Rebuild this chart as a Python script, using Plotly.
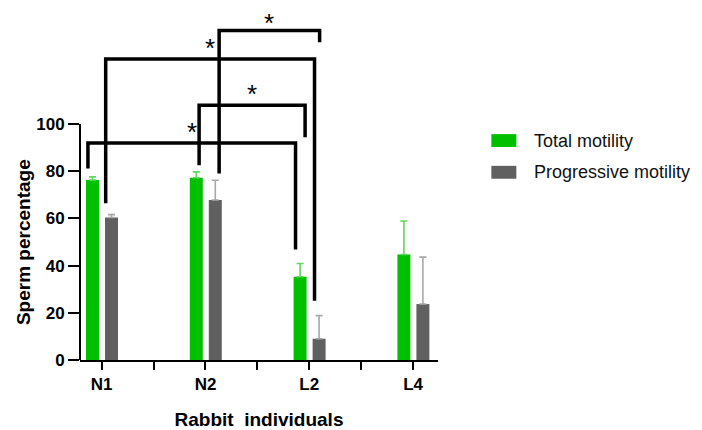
import plotly.graph_objects as go

# ---- data ----
categories = ["N1", "N2", "L2", "L4"]
total_motility = [76.3, 77.2, 35.3, 44.7]
total_err = [1.3, 2.5, 5.6, 14.2]
progressive_motility = [60.4, 67.8, 9.0, 23.7]
progressive_err = [1.2, 8.4, 9.8, 19.9]
series_names = ["Total motility", "Progressive motility"]
y_ticks = [0, 20, 40, 60, 80, 100]

# significance comparisons: (cat_a, series_a, cat_b, series_b, top, left_end, right_end, nudge_left, nudge_right)
comparisons = [
    (0, 0, 2, 0, 92.0, 81.1, 46.8, -0.044, -0.044),
    (1, 0, 2, 1, 108.0, 82.5, 94.4, 0.027, -0.135),
    (0, 1, 2, 1, 127.6, 66.4, 25.1, -0.056, -0.044),
    (1, 1, 2, 1, 139.6, 79.0, 134.6, 0.037, 0.005),
]
star_label = "*"

# ---- style ----
GREEN = "#00c000"
GREY = "#606060"
FONT = "Liberation Sans, Arial, sans-serif"
bar_width = 0.125
offsets = [-0.151, 0.032]
colors = [GREEN, GREY]
err_colors = ["#5fd65f", "#a8a8a8"]
star_yshift = [-6, -6, -6, -9]

x_pos = list(range(len(categories)))

fig = go.Figure()
for i, (vals, errs) in enumerate([(total_motility, total_err), (progressive_motility, progressive_err)]):
    fig.add_trace(go.Bar(
        x=x_pos, y=vals, name=series_names[i],
        width=bar_width, offset=offsets[i],
        marker=dict(color=colors[i], line=dict(width=0)),
        error_y=dict(type="data", symmetric=False, array=errs,
                     arrayminus=[0] * len(errs), color=err_colors[i],
                     thickness=1.6, width=3.5),
        showlegend=False,
    ))

def bar_center(cat, ser):
    return cat + offsets[ser] + bar_width / 2

shapes = []
annotations = []
for k, (ca, sa, cb, sb, top, lend, rend, nl, nr) in enumerate(comparisons):
    xl = bar_center(ca, sa) + nl
    xr = bar_center(cb, sb) + nr
    path = f"M {xl},{lend} L {xl},{top} L {xr},{top} L {xr},{rend}"
    shapes.append(dict(type="path", path=path, xref="x", yref="y",
                       line=dict(color="black", width=3.5)))
    annotations.append(dict(x=(xl + xr) / 2, y=top, xref="x", yref="y",
                            text=star_label, showarrow=False,
                            font=dict(family=FONT, size=26, color="black"),
                            xanchor="center", yanchor="bottom", yshift=star_yshift[k]))

# y axis line from 0 to 100
shapes.append(dict(type="line", xref="paper", yref="y", x0=0, x1=0, y0=y_ticks[0], y1=y_ticks[-1],
                   line=dict(color="black", width=2)))

# manual legend (paper coords; plot area 358.3 x 355 px)
PW, PH = 358.3, 355.0
def px_x(px):
    return (px - 80) / PW
def px_y(py):
    return (363 - py) / PH
leg_items = [(series_names[0], GREEN, 141.7), (series_names[1], GREY, 173.7)]
for name, col, yc in leg_items:
    shapes.append(dict(type="rect", xref="paper", yref="paper",
                       x0=px_x(491.7), x1=px_x(516.7), y0=px_y(yc + 6.5), y1=px_y(yc - 6.5),
                       fillcolor=col, line=dict(width=0)))
    annotations.append(dict(x=px_x(532), y=px_y(yc), xref="paper", yref="paper",
                            text=name, showarrow=False, xanchor="left", yanchor="middle",
                            font=dict(family=FONT, size=18, color="#111111")))

# y axis title centred on the 0-100 axis line
annotations.append(dict(x=px_x(23), y=(y_ticks[0] + y_ticks[-1]) / 2, xref="paper", yref="y",
                        text="<b>Sperm percentage</b>", textangle=-90, showarrow=False,
                        xanchor="center", yanchor="middle",
                        font=dict(family=FONT, size=19, color="black")))

tickvals = [0, 0.5, 1, 1.5, 2, 2.5, 3]
ticktext = []
for t in tickvals:
    ticktext.append(f"<b>{categories[int(t)]}</b>" if t == int(t) else "")

fig.update_layout(
    width=694, height=422,
    margin=dict(l=72, r=694 - 72 - PW, t=0, b=67, pad=0),
    plot_bgcolor="white", paper_bgcolor="white",
    barmode="overlay",
    font=dict(family=FONT, color="black"),
    shapes=shapes, annotations=annotations,
    xaxis=dict(range=[-0.209, 3.24], tickmode="array", tickvals=tickvals, ticktext=ticktext,
               showline=True, linecolor="black", linewidth=2,
               ticks="outside", ticklen=8, tickwidth=2, tickcolor="black",
               tickfont=dict(family=FONT, size=17, color="black"),
               showgrid=False, zeroline=False,
               title=dict(text="<b>Rabbit  individuals</b>", standoff=22,
                          font=dict(family=FONT, size=19, color="black"))),
    yaxis=dict(range=[0, PH / 2.38], tickmode="array", tickvals=y_ticks,
               ticktext=[f"<b>{v}</b>" for v in y_ticks],
               showline=False, ticks="outside", ticklen=11, tickwidth=2, tickcolor="black",
               tickfont=dict(family=FONT, size=17, color="black"),
               showgrid=False, zeroline=False),
)

fig.write_html("out.html")
